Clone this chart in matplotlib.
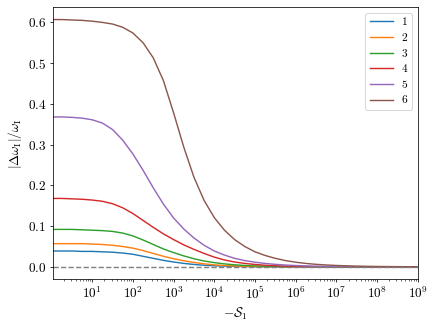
import numpy as np
import matplotlib
matplotlib.use("Agg")
import matplotlib.pyplot as plt

plt.rcParams["font.family"] = "serif"
plt.rcParams["font.serif"] = ["cmr10", "DejaVu Serif"]
plt.rcParams["mathtext.fontset"] = "cm"
plt.rcParams["axes.formatter.use_mathtext"] = True
plt.rcParams["font.size"] = 14

# exponent of -S_1 (x = 10**log_s)
log_s = [0.0, 0.25, 0.5, 0.75, 1.0, 1.25, 1.5, 1.75, 2.0, 2.25, 2.5, 2.75,
         3.0, 3.25, 3.5, 3.75, 4.0, 4.25, 4.5, 4.75, 5.0, 5.25, 5.5, 5.75,
         6.0, 6.25, 6.5, 6.75, 7.0, 7.25, 7.5, 7.75, 8.0, 8.25, 8.5, 8.75, 9.0]

# |Delta omega_I| / omega_I, one list per mode
mode1 = [0.039, 0.039, 0.039, 0.038, 0.038, 0.037, 0.036, 0.034, 0.031, 0.026,
         0.021, 0.016, 0.012, 0.0085, 0.006, 0.004, 0.0028, 0.0019, 0.0012,
         0.0008, 0.0005, 0.0003, 0.0002, 0.0001, 0.0, 0.0, 0.0, 0.0, 0.0, 0.0,
         0.0, 0.0, 0.0, 0.0, 0.0, 0.0, 0.0]
mode2 = [0.057, 0.057, 0.057, 0.057, 0.056, 0.055, 0.053, 0.050, 0.046, 0.040,
         0.033, 0.026, 0.020, 0.015, 0.011, 0.0075, 0.005, 0.0034, 0.0022,
         0.0015, 0.001, 0.0006, 0.0004, 0.0002, 0.0001, 0.0, 0.0, 0.0, 0.0,
         0.0, 0.0, 0.0, 0.0, 0.0, 0.0, 0.0, 0.0]
mode3 = [0.092, 0.092, 0.092, 0.091, 0.090, 0.089, 0.087, 0.083, 0.076, 0.066,
         0.055, 0.044, 0.035, 0.027, 0.020, 0.0145, 0.0105, 0.0074, 0.0051,
         0.0035, 0.0024, 0.0016, 0.001, 0.0006, 0.0004, 0.0002, 0.0001, 0.0,
         0.0, 0.0, 0.0, 0.0, 0.0, 0.0, 0.0, 0.0, 0.0]
mode4 = [0.168, 0.168, 0.167, 0.166, 0.164, 0.161, 0.155, 0.145, 0.131, 0.114,
         0.097, 0.081, 0.067, 0.054, 0.043, 0.033, 0.024, 0.017, 0.012, 0.0085,
         0.006, 0.004, 0.0028, 0.0019, 0.0013, 0.0009, 0.0006, 0.0004, 0.0003,
         0.0002, 0.0001, 0.0, 0.0, 0.0, 0.0, 0.0, 0.0]
mode5 = [0.368, 0.368, 0.367, 0.365, 0.361, 0.353, 0.337, 0.311, 0.277, 0.237,
         0.194, 0.154, 0.120, 0.093, 0.071, 0.053, 0.039, 0.029, 0.021, 0.0155,
         0.0115, 0.0085, 0.0062, 0.0045, 0.0033, 0.0024, 0.0017, 0.0012,
         0.0009, 0.0006, 0.0004, 0.0003, 0.0002, 0.0001, 0.0, 0.0, 0.0]
mode6 = [0.607, 0.607, 0.606, 0.605, 0.603, 0.600, 0.596, 0.588, 0.574, 0.550,
         0.513, 0.457, 0.378, 0.294, 0.220, 0.163, 0.121, 0.090, 0.067, 0.050,
         0.037, 0.028, 0.021, 0.0155, 0.0115, 0.0085, 0.0063, 0.0047, 0.0035,
         0.0026, 0.0019, 0.0014, 0.001, 0.0008, 0.0006, 0.0004, 0.0003]

modes = [mode1, mode2, mode3, mode4, mode5, mode6]
labels = ["1", "2", "3", "4", "5", "6"]
x_major = [1e1, 1e2, 1e3, 1e4, 1e5, 1e6, 1e7, 1e8, 1e9]

s_vals = 10.0 ** np.array(log_s)

fig, ax = plt.subplots(figsize=(6.4, 4.8), dpi=68.125)
fig.subplots_adjust(left=0.121, right=0.958, top=0.978, bottom=0.146)

for vals, lab in zip(modes, labels):
    ax.plot(s_vals, vals, label=lab, lw=1.5)

ax.axhline(0, color="gray", ls="--", lw=1.5)

ax.set_xscale("log")
ax.set_xticks(x_major)
ax.set_xlim(1.07, 1e9)
ax.set_xlabel(r"$-\mathcal{S}_1$")
ax.set_ylabel(r"$|\Delta\omega_{\rm I}|/\omega_{\rm I}$")
ax.legend(loc="upper right", fontsize=12)

fig.savefig("out.png")
